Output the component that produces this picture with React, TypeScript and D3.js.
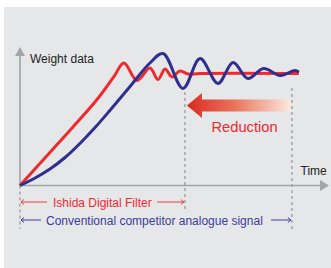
import React from "react";
import * as d3 from "d3";

// time (0-100) / weight (0-100)
const filterTime = [0, 13.57, 27.5, 33.6, 37.1, 41.8, 46.4, 49.3, 51.8, 54.3, 57.1, 60, 64.3, 99.6];
const filterWeight = [0, 30, 61.4, 78, 87.5, 75, 83.9, 75.7, 83.2, 77.5, 81.8, 79.6, 80, 80];

const analogueTime = [0, 5.4, 10.7, 16.1, 21.4, 26.8, 32.1, 39.3, 46.4, 51.1, 58.2, 64.3, 70.7, 76.1, 81.4, 87, 92.9, 98.2, 99.6];
const analogueWeight = [0, 5.4, 11.8, 20, 30, 41.4, 53.6, 70.7, 87.5, 94.3, 69.3, 90.7, 72.9, 87.9, 76.4, 83.6, 78.6, 82.1, 81.1];

// settling times
const settleTimes = [58.9, 97.1];

const labels = {
  yAxis: "Weight data",
  xAxis: "Time",
  reduction: "Reduction",
  filter: "Ishida Digital Filter",
  analogue: "Conventional competitor analogue signal",
};

const RED = "#ee2a2e";
const BLUE = "#2e2f8e";
const AXIS = "#a3a4a6";
const FONT = "'Liberation Sans', Arial, Helvetica, sans-serif";

export default function App() {
  const width = 331;
  const height = 268;

  const x = d3.scaleLinear().domain([0, 100]).range([20, 300]);
  const y = d3.scaleLinear().domain([0, 100]).range([185.5, 45.5]);

  const line = d3
    .line<[number, number]>()
    .x((d) => x(d[0]))
    .y((d) => y(d[1]))
    .curve(d3.curveCatmullRom.alpha(0.5));

  const redPts = filterTime.map((t, i) => [t, filterWeight[i]] as [number, number]);
  const bluePts = analogueTime.map((t, i) => [t, analogueWeight[i]] as [number, number]);

  const x0 = x(0);
  const y0 = y(0);
  const xa = x(settleTimes[0]);
  const xb = x(settleTimes[1]);

  // little double-ended span arrow with a gap for text
  const span = (x1: number, x2: number, gap1: number, gap2: number, yy: number, color: string) => (
    <g stroke={color} strokeWidth={0.9} fill="none">
      <line x1={x1 + 1} x2={gap1} y1={yy} y2={yy} />
      <line x1={gap2} x2={x2 - 1} y1={yy} y2={yy} />
      <path d={`M${x1 + 4},${yy - 2.5} L${x1 + 1},${yy} L${x1 + 4},${yy + 2.5}`} />
      <path d={`M${x2 - 4},${yy - 2.5} L${x2 - 1},${yy} L${x2 - 4},${yy + 2.5}`} />
    </g>
  );

  return (
    <svg width={width} height={height} style={{ position: "absolute", left: 0, top: 0 }}>
      <defs>
        <linearGradient id="redFade" x1="0" x2="1" y1="0" y2="0">
          <stop offset="0%" stopColor="#d92b22" />
          <stop offset="45%" stopColor="#e8735a" />
          <stop offset="100%" stopColor="#fde9df" />
        </linearGradient>
      </defs>
      <rect width={width} height={height} fill="#fff" />
      <rect x={4} y={7} width={width - 4} height={height - 7} fill="#e6e7e8" />

      {/* axes */}
      <line x1={x0} x2={x0} y1={y0} y2={54} stroke={AXIS} strokeWidth={1.6} />
      <path d={`M${x0},47 L${x0 - 5},56 L${x0 + 5},56 Z`} fill={AXIS} />
      <line x1={x0} x2={321} y1={y0} y2={y0} stroke={AXIS} strokeWidth={1.6} />
      <path d={`M329,${y0} L320,${y0 - 5.5} L320,${y0 + 5.5} Z`} fill={AXIS} />

      {/* dashed guides */}
      <g stroke={AXIS} strokeWidth={1.5} strokeDasharray="3,3">
        <line x1={x0} x2={x0} y1={y0} y2={229} />
        <line x1={xa} x2={xa} y1={92} y2={212} />
        <line x1={xb} x2={xb} y1={88} y2={230} />
      </g>

      {/* reduction arrow */}
      <path
        d={`M${xa + 2},105.5 L202,93 L202,99.5 L${xb - 1},99.5 L${xb - 1},111.5 L202,111.5 L202,118 Z`}
        fill="url(#redFade)"
      />

      {/* signals */}
      <path d={line(redPts) ?? ""} fill="none" stroke={RED} strokeWidth={3} strokeLinejoin="round" />
      <path d={line(bluePts) ?? ""} fill="none" stroke={BLUE} strokeWidth={3} strokeLinejoin="round" />

      {/* texts */}
      <g fontFamily={FONT}>
        <text x={30} y={62.5} fontSize={12} fill="#222">{labels.yAxis}</text>
        <text x={300.5} y={175} fontSize={12} fill="#222">{labels.xAxis}</text>
        <text x={211.5} y={131.5} fontSize={14.7} fill={RED}>{labels.reduction}</text>
        <text x={53} y={206.5} fontSize={12} fill={RED}>{labels.filter}</text>
        <text x={46} y={225} fontSize={12} fill="#3b3b9c">{labels.analogue}</text>
      </g>

      {span(x0, xa, 47, 157, 202, RED)}
      {span(x0, xb, 41, 271, 220, BLUE)}
    </svg>
  );
}
